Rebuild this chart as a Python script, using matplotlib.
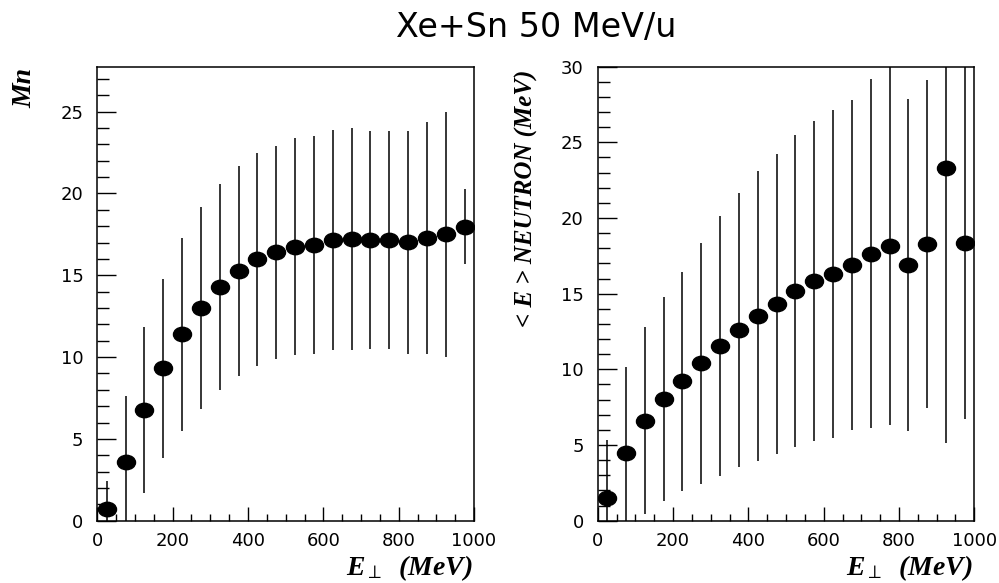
import numpy as np
import matplotlib
matplotlib.use("Agg")
import matplotlib.pyplot as plt
from matplotlib.path import Path
from matplotlib.transforms import Affine2D
from matplotlib.ticker import MultipleLocator

# bin centres of E_perp (MeV)
e_perp = [25, 75, 125, 175, 225, 275, 325, 375, 425, 475,
          525, 575, 625, 675, 725, 775, 825, 875, 925, 975]

# neutron multiplicity
mn = [0.71, 3.57, 6.77, 9.31, 11.39, 12.98, 14.28, 15.28, 15.98, 16.41,
      16.75, 16.85, 17.16, 17.20, 17.16, 17.16, 17.02, 17.26, 17.51, 17.97]
mn_err = [1.70, 4.03, 5.07, 5.49, 5.89, 6.17, 6.32, 6.42, 6.50, 6.52,
          6.62, 6.64, 6.72, 6.78, 6.66, 6.66, 6.82, 7.09, 7.50, 2.29]

# mean neutron energy (MeV)
en = [1.52, 4.45, 6.61, 8.02, 9.21, 10.40, 11.57, 12.60, 13.55, 14.32,
      15.20, 15.84, 16.30, 16.90, 17.63, 18.15, 16.90, 18.27, 23.33, 18.37]
en_err = [3.80, 5.70, 6.17, 6.73, 7.25, 7.95, 8.59, 9.08, 9.58, 9.90,
          10.30, 10.60, 10.85, 10.93, 11.53, 11.80, 10.95, 10.83, 18.17, 11.67]

plt.rcParams['mathtext.fontset'] = 'custom'
plt.rcParams['mathtext.rm'] = 'Liberation Serif:bold:italic'
plt.rcParams['mathtext.it'] = 'Liberation Serif:bold:italic'
plt.rcParams['mathtext.bf'] = 'Liberation Serif:bold:italic'

# flattened ellipse marker like the original PAW plot
ellipse = Path.unit_circle().transformed(Affine2D().scale(1.0, 0.8))

fig = plt.figure(figsize=(9.99, 5.83), dpi=100)
ax1 = fig.add_axes([0.0974, 0.1069, 0.3771, 0.7787])
ax2 = fig.add_axes([0.5983, 0.1069, 0.3770, 0.7787])

lab_font = dict(family='Liberation Serif', weight='bold', style='italic')


def style_axes(ax, ymax):
    ax.set_xlim(0, 1000)
    ax.set_ylim(0, ymax)
    ax.xaxis.set_major_locator(MultipleLocator(200))
    ax.xaxis.set_minor_locator(MultipleLocator(50))
    ax.yaxis.set_major_locator(MultipleLocator(5))
    ax.yaxis.set_minor_locator(MultipleLocator(1))
    ax.tick_params(axis='x', which='major', direction='in', length=10, width=1.0, pad=8, labelsize=13)
    ax.tick_params(axis='x', which='minor', direction='in', length=5, width=1.0)
    ax.tick_params(axis='y', which='major', direction='in', length=13.5, width=1.0, pad=10, labelsize=13)
    ax.tick_params(axis='y', which='minor', direction='in', length=8.5, width=1.0)
    ax.tick_params(top=False, right=False, which='both')
    for sp in ax.spines.values():
        sp.set_linewidth(1.1)


for ax, y, err, ymax in [(ax1, mn, mn_err, 27.75), (ax2, en, en_err, 30)]:
    ax.errorbar(e_perp, y, yerr=err, fmt='none', ecolor='black', elinewidth=1.1, capsize=0)
    ax.plot(e_perp, y, linestyle='none', marker=ellipse, markersize=13,
            color='black')
    style_axes(ax, ymax)

fig.text(0.5365, 0.953, 'Xe+Sn 50 MeV/u', ha='center', va='center', fontsize=24)

fig.text(0.025, 0.849, 'Mn', rotation=90, ha='center', va='center', fontsize=20, **lab_font)
fig.text(0.527, 0.659, '< E > NEUTRON (MeV)', rotation=90, ha='center', va='center',
         fontsize=18, **lab_font)

fig.text(0.4735, 0.026, r'$E_{\perp}$  (MeV)', ha='right', va='center', fontsize=20, **lab_font)
fig.text(0.9735, 0.026, r'$E_{\perp}$  (MeV)', ha='right', va='center', fontsize=20, **lab_font)

fig.savefig('out.png', dpi=100)
